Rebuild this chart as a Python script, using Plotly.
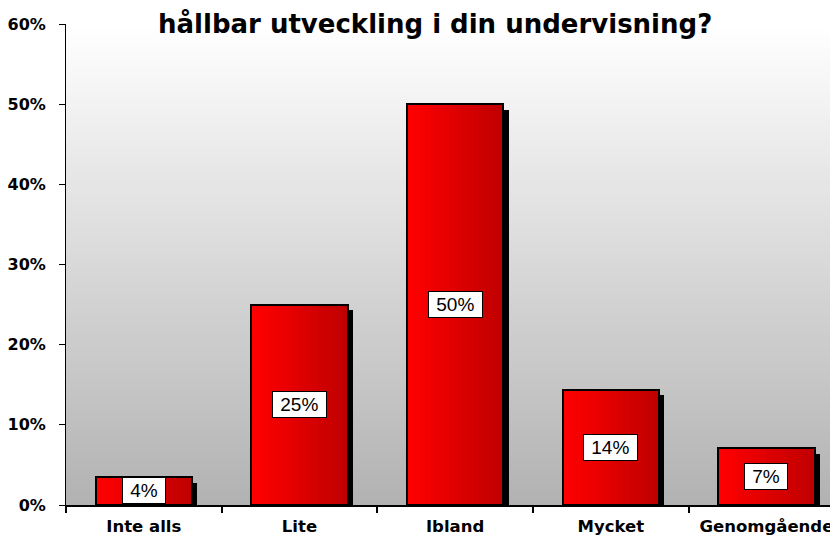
import plotly.graph_objects as go

categories = ["Inte alls", "Lite", "Ibland", "Mycket", "Genomgående"]
values = [3.5, 25.0, 50.0, 14.4, 7.1]
value_labels = ["4%", "25%", "50%", "14%", "7%"]
y_ticks = [0, 10, 20, 30, 40, 50, 60]
y_tick_labels = ["0%", "10%", "20%", "30%", "40%", "50%", "60%"]
title_text = "hållbar utveckling i din undervisning?"

BAR_W = 0.62
N_SLICES = 16
FONT = "Liberation Sans, Arial, sans-serif"
BOLD_FONT = "DejaVu Sans, Verdana, sans-serif"
NB = "\u00a0"

fig = go.Figure()

# shadow
fig.add_trace(go.Bar(
    x=categories, y=values, base=[-0.7] * len(values), width=BAR_W,
    offset=-BAR_W / 2 + 0.033, marker=dict(color="black", line=dict(width=0)),
    hoverinfo="skip", showlegend=False,
))


def lerp(a, b, t):
    return int(round(a + (b - a) * t))


# gradient slices of each bar
for k in range(N_SLICES):
    t = k / (N_SLICES - 1)
    col = f"rgb({lerp(255, 192, t)},0,0)"
    fig.add_trace(go.Bar(
        x=categories, y=values, width=BAR_W / N_SLICES + 0.002,
        offset=-BAR_W / 2 + k * BAR_W / N_SLICES,
        marker=dict(color=col, line=dict(width=0)),
        hoverinfo="skip", showlegend=False,
    ))

# outline
fig.add_trace(go.Bar(
    x=categories, y=values, width=BAR_W, offset=-BAR_W / 2,
    marker=dict(color="rgba(0,0,0,0)", line=dict(color="black", width=2)),
    hoverinfo="skip", showlegend=False,
))

# value labels
for i, (v, lab) in enumerate(zip(values, value_labels)):
    fig.add_annotation(
        x=i, y=v / 2, xref="x", yref="y", text=NB + lab + NB, showarrow=False,
        font=dict(family=FONT, size=19, color="black"),
        bgcolor="white", bordercolor="black", borderwidth=1, borderpad=2,
    )

# gradient background in the plot area
N_BANDS = 80
for k in range(N_BANDS):
    t0 = k / N_BANDS
    t1 = (k + 1) / N_BANDS
    tm = (t0 + t1) / 2
    g = lerp(178, 255, tm)
    fig.add_shape(
        type="rect", xref="paper", yref="paper", x0=0, x1=1, y0=t0, y1=t1 + 0.002,
        fillcolor=f"rgb({g},{g},{g})", line=dict(width=0), layer="below",
    )

fig.add_annotation(
    x=0.478, y=1.0, xref="paper", yref="paper", xanchor="center", yanchor="middle",
    yshift=1, text=f"<b>{title_text}</b>", showarrow=False,
    font=dict(family=BOLD_FONT, size=26, color="black"),
)

# page body has an 8px margin; compensate so the plot area lands where the reference has it
fig.update_layout(
    width=830, height=529,
    margin=dict(l=58, r=0, t=16, b=32),
    paper_bgcolor="white", plot_bgcolor="white",
    barmode="overlay", bargap=0,
    showlegend=False,
    xaxis=dict(
        type="category", range=[-0.5, 4.46],
        showgrid=False, zeroline=False,
        showline=True, linecolor="black", linewidth=2,
        ticks="outside", tickson="boundaries", ticklen=6, tickwidth=2, tickcolor="black",
        tickfont=dict(family=BOLD_FONT, size=16.5, color="black", weight="bold"),
        ticklabelstandoff=5,
    ),
    yaxis=dict(
        range=[0, 60], tickvals=y_ticks, ticktext=y_tick_labels,
        showgrid=False, zeroline=False,
        showline=True, linecolor="black", linewidth=1,
        ticks="outside", ticklen=6, tickwidth=1, tickcolor="black",
        tickfont=dict(family=BOLD_FONT, size=16, color="black", weight="bold"),
        ticklabelstandoff=10,
    ),
)

fig.write_html("out.html")
